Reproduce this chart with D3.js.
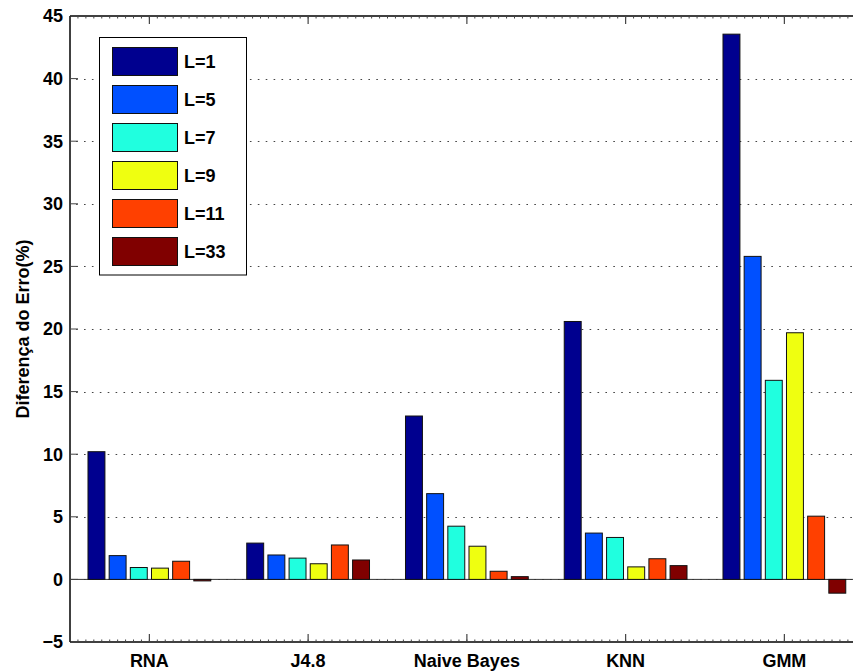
<!DOCTYPE html>
<html>
<head>
<meta charset="utf-8">
<script src="https://cdn.jsdelivr.net/npm/d3@7"></script>
<style>
html,body{margin:0;padding:0;background:#fff;}
svg{display:block;}
text{font-family:"Liberation Sans",Arial,Helvetica,sans-serif;font-weight:bold;}
</style>
</head>
<body>
<svg id="chart" width="853" height="671"></svg>
<script>
const categories = ["RNA", "J4.8", "Naive Bayes", "KNN", "GMM"];
const seriesNames = ["L=1", "L=5", "L=7", "L=9", "L=11", "L=33"];
const seriesColors = ["#00008F", "#0050FF", "#20FFDF", "#EFFF10", "#FF4000", "#800000"];
const L1  = [10.2, 2.9, 13.05, 20.6, 43.55];
const L5  = [1.9, 1.95, 6.85, 3.7, 25.8];
const L7  = [0.95, 1.7, 4.25, 3.35, 15.9];
const L9  = [0.9, 1.25, 2.65, 1.0, 19.7];
const L11 = [1.45, 2.75, 0.65, 1.65, 5.05];
const L33 = [-0.12, 1.55, 0.22, 1.1, -1.1];
const yTicks = [-5, 0, 5, 10, 15, 20, 25, 30, 35, 40, 45];
const series = [L1, L5, L7, L9, L11, L33];

(function () {
const svg = d3.select("#chart");
const pLeft = 70, pTop = 16, pBottom = 642;
const x = d3.scaleLinear().domain([0.5, 5.5]).range([pLeft, pLeft + 5 * 158.75]);
const y = d3.scaleLinear().domain([-5, 45]).range([pBottom, pTop]);
const pRight = x(5.5);

const nS = series.length;
const groupW = 0.8;
const step = groupW / nS;
const barW = step * 0.8;

// grid (dotted)
const gGrid = svg.append("g");
yTicks.filter(t => t > -5 && t < 45).forEach(t => {
  gGrid.append("line")
    .attr("x1", pLeft).attr("x2", pRight)
    .attr("y1", Math.round(y(t)) + 0.5).attr("y2", Math.round(y(t)) + 0.5)
    .attr("stroke", "#444").attr("stroke-width", 1.2)
    .attr("stroke-dasharray", "1.6,6.3").attr("stroke-dashoffset", -14);
});

// baseline at 0
svg.append("line")
  .attr("x1", pLeft).attr("x2", pRight)
  .attr("y1", y(0)).attr("y2", y(0))
  .attr("stroke", "#333").attr("stroke-width", 1);

// bars
const gBars = svg.append("g");
series.forEach((vals, s) => {
  vals.forEach((v, i) => {
    const cx = (i + 1) - groupW / 2 + step * (s + 0.5);
    const x0 = x(cx - barW / 2), x1 = x(cx + barW / 2);
    const yT = y(Math.max(0, v)), yB = y(Math.min(0, v));
    gBars.append("rect")
      .attr("x", x0).attr("y", yT)
      .attr("width", x1 - x0).attr("height", Math.max(0.5, yB - yT))
      .attr("fill", seriesColors[s])
      .attr("stroke", "#111").attr("stroke-width", 1);
  });
});

// axes frame
const gAx = svg.append("g").attr("stroke", "#000").attr("fill", "none");
gAx.append("line").attr("x1", pLeft).attr("x2", pLeft).attr("y1", pTop).attr("y2", pBottom).attr("stroke-width", 1.5);
gAx.append("line").attr("x1", pLeft).attr("x2", pRight).attr("y1", pTop).attr("y2", pTop).attr("stroke-width", 1.5);
gAx.append("line").attr("x1", pLeft).attr("x2", pRight).attr("y1", pBottom).attr("y2", pBottom).attr("stroke-width", 1.5);

// y ticks
const tickLen = 8;
yTicks.forEach(t => {
  svg.append("line").attr("x1", pLeft).attr("x2", pLeft + tickLen)
    .attr("y1", y(t)).attr("y2", y(t)).attr("stroke", "#444").attr("stroke-width", 1);
  svg.append("text").attr("x", 63).attr("y", y(t)).attr("dy", "0.36em")
    .attr("text-anchor", "end").attr("font-size", 18).attr("fill", "#000")
    .text(t < 0 ? "\u2212" + Math.abs(t) : String(t));
});

// x minor ticks
d3.range(0.55, 5.5, 0.05).forEach(v => {
  const xx = x(v);
  if (xx > 853) return;
  svg.append("line").attr("x1", xx).attr("x2", xx).attr("y1", pBottom).attr("y2", pBottom - 2.5).attr("stroke", "#444").attr("stroke-width", 1);
  svg.append("line").attr("x1", xx).attr("x2", xx).attr("y1", pTop).attr("y2", pTop + 2.5).attr("stroke", "#444").attr("stroke-width", 1);
});
// x major ticks + labels
categories.forEach((c, i) => {
  const xx = x(i + 1);
  svg.append("line").attr("x1", xx).attr("x2", xx).attr("y1", pBottom).attr("y2", pBottom - tickLen).attr("stroke", "#444").attr("stroke-width", 1.2);
  svg.append("line").attr("x1", xx).attr("x2", xx).attr("y1", pTop).attr("y2", pTop + tickLen).attr("stroke", "#444").attr("stroke-width", 1.2);
  svg.append("text").attr("x", xx).attr("y", 667).attr("text-anchor", "middle")
    .attr("font-size", 18).attr("fill", "#000").text(c);
});

// y label
svg.append("text")
  .attr("transform", `translate(29,${(pTop + pBottom) / 2}) rotate(-90)`)
  .attr("text-anchor", "middle").attr("font-size", 18).attr("fill", "#000")
  .text("Diferença do Erro(%)");

// legend
const lg = svg.append("g");
lg.append("rect").attr("x", 99.5).attr("y", 37.5).attr("width", 147).attr("height", 237.5)
  .attr("fill", "#fff").attr("stroke", "#000").attr("stroke-width", 1);
seriesNames.forEach((n, s) => {
  const yy = 47.5 + s * 38;
  lg.append("rect").attr("x", 112.5).attr("y", yy).attr("width", 65).attr("height", 28)
    .attr("fill", seriesColors[s]).attr("stroke", "#111").attr("stroke-width", 1);
  lg.append("text").attr("x", 184).attr("y", yy + 14).attr("dy", "0.36em")
    .attr("font-size", 18).attr("fill", "#000").text(n);
});
})();
</script>
</body>
</html>
